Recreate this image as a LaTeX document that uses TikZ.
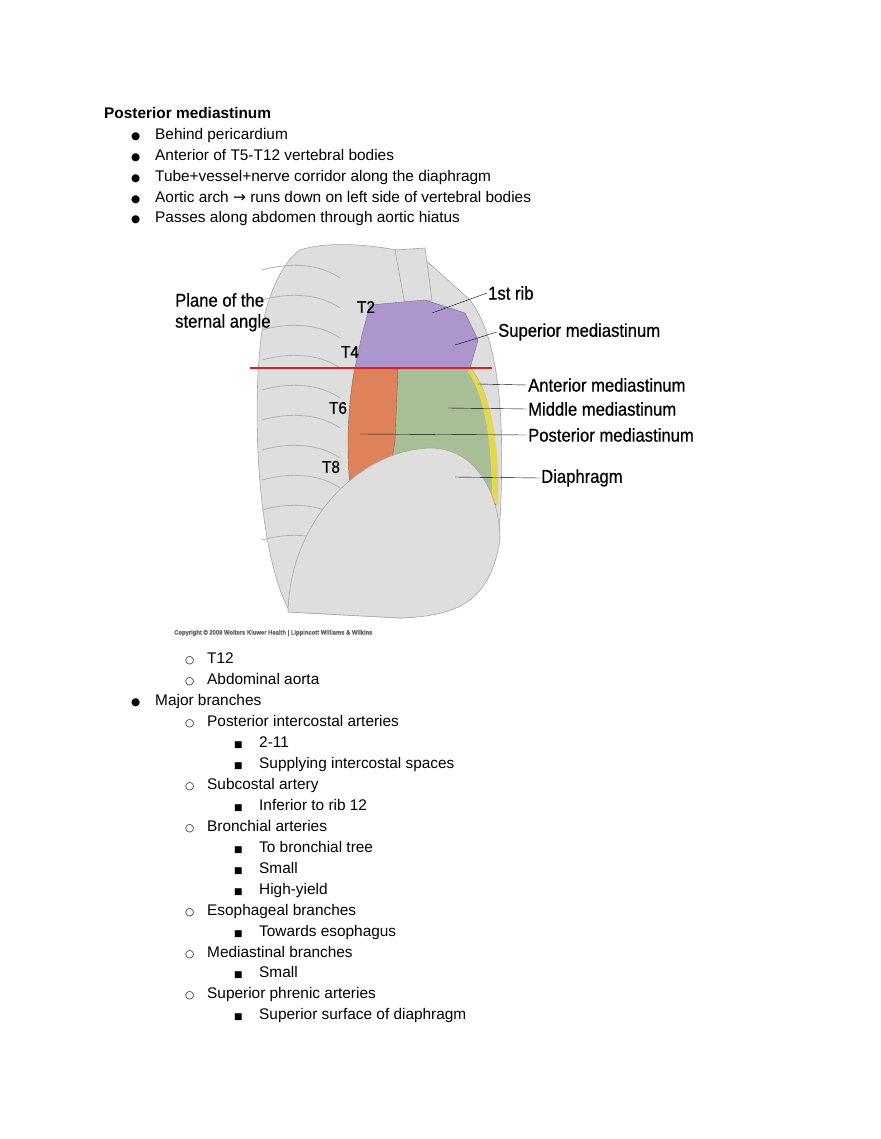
\documentclass[tikz,border=0pt]{standalone}
\usepackage{fontspec}
\setmainfont{Liberation Sans}
\newfontfamily\symfont{DejaVu Sans}
\newfontfamily\narrowfont[FakeStretch=0.9,FakeBold=0.6]{Liberation Sans}
\definecolor{supcol}{RGB}{172,150,205}
\definecolor{midcol}{RGB}{168,190,150}
\definecolor{postcol}{RGB}{222,130,90}
\definecolor{antcol}{RGB}{225,215,80}
\definecolor{bonecol}{RGB}{222,222,222}
\definecolor{planeline}{RGB}{225,30,35}
\tikzstyle{txt}=[anchor=base west,inner sep=0pt,font=\fontsize{15.4}{18}\selectfont]
\tikzstyle{lab}=[anchor=west,inner sep=1pt,font=\narrowfont\fontsize{18.5}{21}\selectfont]
\tikzstyle{vert}=[anchor=center,inner sep=0pt,font=\narrowfont\fontsize{17}{19}\selectfont]
\tikzstyle{lead}=[black,thin]
\tikzstyle{bone}=[draw=gray!70,fill=bonecol,line width=0.6pt]
\newcommand{\bdot}{{\symfont\fontsize{10.5}{12}\selectfont ●}}
\newcommand{\bring}{{\symfont\fontsize{10.5}{12}\selectfont ○}}
\newcommand{\bsq}{{\symfont\fontsize{9}{12}\selectfont ■}}
\newcommand{\rarr}{{\symfont →}}

\begin{document}
\begin{tikzpicture}[x=1pt,y=-1pt]
  \useasboundingbox[fill=white] (0,0) rectangle (880,1139);

  % heading and first bullets
  \node[txt] (title) at (104,119) {\bfseries Posterior mediastinum};
  \foreach \yy/\tx [count=\i] in {140/Behind pericardium,
      161/Anterior of T5-T12 vertebral bodies,
      182/Tube+vessel+nerve corridor along the diaphragm,
      203/{Aortic arch \rarr{} runs down on left side of vertebral bodies},
      223/Passes along abdomen through aortic hiatus}{
    \node[txt] (b\i) at (131,\yy) {\bdot};
    \node[txt] (t\i) at (155,\yy) {\tx};
  }

  % figure: rib cage
  \path[bone] (300,250) .. controls (330,240) and (380,245) .. (420,255)
     -- (470,300) .. controls (500,340) and (505,420) .. (500,520)
     .. controls (495,580) and (470,615) .. (400,618)
     -- (290,612) .. controls (260,560) and (250,420) .. (262,330)
     .. controls (268,290) and (285,260) .. (300,250) -- cycle;
  \foreach \ry in {270,300,330,360,390,420,450,480,510,540}
    \draw[gray!60,line width=0.8pt] (262,\ry) .. controls (290,\ry-8) and (320,\ry-6) .. (340,\ry+8);
  \path[bone] (395,250) -- (425,248) -- (432,300) -- (405,305) -- cycle;
  % mediastinum regions
  \path[fill=supcol,draw=supcol!70!black,thin] (370,305) -- (425,300) -- (465,313)
     -- (478,340) -- (470,368) -- (355,368) -- (362,335) -- cycle;
  \path[fill=midcol,draw=midcol!70!black,thin] (385,368) -- (470,368)
     .. controls (490,390) and (498,440) .. (496,505)
     -- (440,470) .. controls (410,468) and (395,480) .. (385,490) -- cycle;
  \path[fill=antcol] (470,368) .. controls (490,390) and (500,440) .. (498,505)
     -- (492,502) .. controls (492,440) and (484,395) .. (468,372) -- cycle;
  \path[fill=postcol,draw=postcol!70!black,thin] (355,368) -- (398,368)
     -- (395,440) .. controls (392,470) and (380,490) .. (352,500)
     .. controls (345,460) and (348,400) .. (355,368) -- cycle;
  % diaphragm dome
  \path[bone] (288,612) .. controls (290,520) and (360,450) .. (430,448)
     .. controls (480,448) and (500,500) .. (500,540)
     .. controls (490,600) and (460,616) .. (400,618) -- cycle;
  % plane of sternal angle
  \draw[planeline,line width=1.6pt] (250,368) -- (492,368);

  % labels
  \node[lab,anchor=north west,align=left] (plane) at (174,292) {Plane of the\\sternal angle};
  \node[vert] (T2) at (366,307) {T2};
  \node[vert] (T4) at (350,352) {T4};
  \node[vert] (T6) at (338,408) {T6};
  \node[vert] (T8) at (331,467) {T8};
  \node[lab] (rib) at (487,293) {1st rib};
  \node[lab] (sup) at (497,332) {Superior mediastinum};
  \node[lab] (ant) at (527,385) {Anterior mediastinum};
  \node[lab] (mid) at (527,409) {Middle mediastinum};
  \node[lab] (post) at (527,435) {Posterior mediastinum};
  \node[lab] (dia) at (540,478) {Diaphragm};
  \coordinate (ribend) at (432,313);
  \coordinate (supend) at (455,345);
  \coordinate (antend) at (478,384);
  \coordinate (midend) at (448,408);
  \coordinate (postend) at (360,434);
  \coordinate (diaend) at (455,477);
  \draw[lead] (rib.west) -- (ribend);
  \draw[lead] (sup.west) -- (supend);
  \draw[lead] (ant.west) -- (antend);
  \draw[lead] (mid.west) -- (midend);
  \draw[lead] (post.west) -- (postend);
  \draw[lead] (dia.west) -- (diaend);
  \node[anchor=west,inner sep=0pt,font=\narrowfont\bfseries\fontsize{6.5}{7}\selectfont,text=gray!80!black]
    (copy) at (174,633) {Copyright © 2009 Wolters Kluwer Health | Lippincott Williams \& Wilkins};

  % remaining list
  \foreach \tx/\bx/\yy/\bb/\tt [count=\i] in {
      207/185/663/\bring/T12,
      207/185/684/\bring/Abdominal aorta,
      155/131/705/\bdot/Major branches,
      207/185/726/\bring/Posterior intercostal arteries,
      259/234/747/\bsq/2-11,
      259/234/768/\bsq/Supplying intercostal spaces,
      207/185/789/\bring/Subcostal artery,
      259/234/810/\bsq/Inferior to rib 12,
      207/185/831/\bring/Bronchial arteries,
      259/234/852/\bsq/To bronchial tree,
      259/234/873/\bsq/Small,
      259/234/894/\bsq/High-yield,
      207/185/915/\bring/Esophageal branches,
      259/234/936/\bsq/Towards esophagus,
      207/185/957/\bring/Mediastinal branches,
      259/234/977/\bsq/Small,
      207/185/998/\bring/Superior phrenic arteries,
      259/234/1019/\bsq/Superior surface of diaphragm}{
    \node[txt] (m\i) at (\bx,\yy) {\bb};
    \node[txt] (n\i) at (\tx,\yy) {\tt};
  }
\end{tikzpicture}
\end{document}
